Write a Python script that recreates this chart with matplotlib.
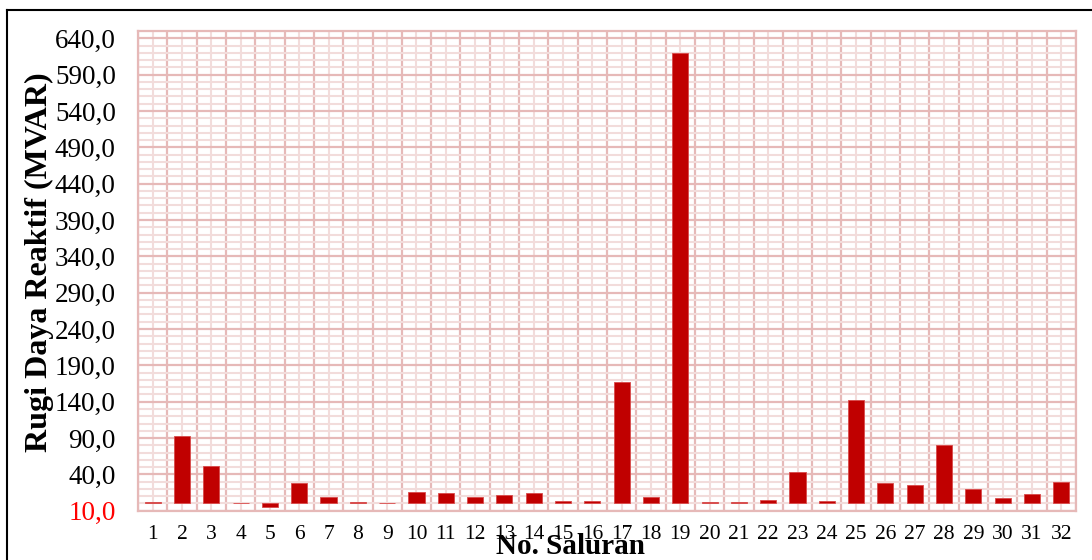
import numpy as np
import matplotlib.pyplot as plt
from matplotlib.ticker import FixedLocator, FuncFormatter
from matplotlib.lines import Line2D

# data
saluran = list(range(1, 33))
rugi_mvar = [2.2, 92.6, 51.7, 0.3, -5.0, 27.5, 8.7, 1.8, 0.3, 15.5,
             13.8, 8.7, 11.4, 13.8, 2.8, 3.2, 166.5, 8.7, 619.4, 1.9,
             1.5, 4.6, 43.2, 2.9, 142.6, 28.5, 24.8, 80.3, 19.4, 7.9,
             13.4, 29.4]
y_min, y_max = -10, 650
y_major = list(range(-10, 641, 50))

bar_color = "#C00000"
major_grid = "#E6B9B8"
minor_grid = "#F2DCDB"

plt.rcParams["font.family"] = ["Liberation Serif", "DejaVu Serif"]

fig = plt.figure(figsize=(10.92, 5.6), dpi=100)
ax = fig.add_axes([0.1264, 0.088, 0.8589, 0.8566])

x = np.array(saluran)
ax.bar(x, rugi_mvar, width=0.55, color=bar_color, edgecolor="#D84A4A",
       linewidth=0.6, zorder=3)

ax.set_xlim(0.5, len(saluran) + 0.5)
ax.set_ylim(y_min, y_max)

ax.yaxis.set_major_locator(FixedLocator(y_major))
ax.yaxis.set_minor_locator(FixedLocator(range(y_min, y_max + 1, 10)))
ax.xaxis.set_major_locator(FixedLocator(x))
ax.xaxis.set_minor_locator(FixedLocator(np.arange(0.5, len(saluran) + 1, 1)))

ax.yaxis.set_major_formatter(FuncFormatter(lambda v, p: f"{abs(v):.1f}".replace(".", ",")))
ax.set_xticklabels([str(s) for s in saluran])

ax.grid(which="minor", axis="y", color=minor_grid, linewidth=1.5, zorder=0)
ax.grid(which="major", axis="x", color=minor_grid, linewidth=1.5, zorder=0)
ax.grid(which="major", axis="y", color=major_grid, linewidth=1.6, zorder=1)
ax.grid(which="minor", axis="x", color=major_grid, linewidth=1.6, zorder=1)
ax.set_axisbelow(True)

ax.tick_params(axis="both", which="both", length=0)
ax.tick_params(axis="y", labelsize=19.5, pad=16)
ax.tick_params(axis="x", labelsize=15.5, pad=10)
for lbl, v in zip(ax.get_yticklabels(), y_major):
    if v < 0:
        lbl.set_color("red")

for sp in ax.spines.values():
    sp.set_color(major_grid)
    sp.set_linewidth(1.6)

fig.text(0.036, 0.532, "Rugi Daya Reaktif (MVAR)", rotation=90, fontsize=23,
         fontweight="bold", ha="center", va="center")
fig.text(0.522, 0.025, "No. Saluran", fontsize=21, fontweight="bold",
         ha="center", va="center")

# chart area border (left and top visible)
fig.add_artist(Line2D([7 / 1092, 7 / 1092], [0, 1 - 10 / 560], color="black",
                      linewidth=1.5, transform=fig.transFigure))
fig.add_artist(Line2D([7 / 1092, 1], [1 - 10 / 560, 1 - 10 / 560], color="black",
                      linewidth=1.5, transform=fig.transFigure))

fig.savefig("out.png", dpi=100)
